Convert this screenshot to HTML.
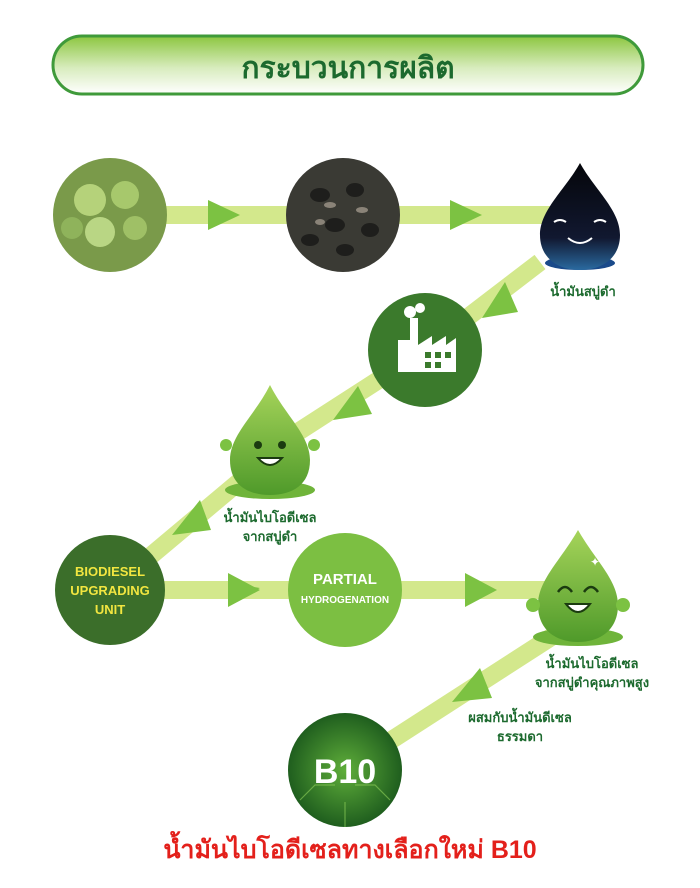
<!DOCTYPE html>
<html><head><meta charset="utf-8"><style>
body{margin:0;background:#fff;}
svg{display:block;font-family:"Liberation Sans","Noto Sans CJK SC",sans-serif;}
</style></head><body>
<svg width="700" height="888" viewBox="0 0 700 888">
<defs>
<linearGradient id="hdr" x1="0" y1="0" x2="0" y2="1">
<stop offset="0" stop-color="#8cc63f"/><stop offset="0.55" stop-color="#d8ecbe"/><stop offset="1" stop-color="#ffffff"/>
</linearGradient>
<linearGradient id="drop" x1="0" y1="0" x2="0" y2="1">
<stop offset="0" stop-color="#a6d45a"/><stop offset="1" stop-color="#4f9a2a"/>
</linearGradient>
<linearGradient id="bdrop" x1="0" y1="0" x2="0" y2="1">
<stop offset="0" stop-color="#05060a"/><stop offset="0.7" stop-color="#111830"/><stop offset="1" stop-color="#2a6aa0"/>
</linearGradient>
<radialGradient id="b10" cx="0.5" cy="0.5" r="0.5">
<stop offset="0" stop-color="#5fae3a"/><stop offset="1" stop-color="#1f5e1e"/>
</radialGradient>
</defs>
<!-- header -->
<rect x="53" y="36" width="590" height="58" rx="29" fill="url(#hdr)" stroke="#3f9a3a" stroke-width="3"/>
<text x="348" y="78" text-anchor="middle" font-size="30" font-weight="bold" fill="#1c6a2e">กระบวนการผลิต</text>
<!-- bands -->
<g stroke="#d3e88c" stroke-width="18" fill="none" stroke-linecap="butt">
<line x1="110" y1="215" x2="580" y2="215"/>
<line x1="540" y1="262" x2="425" y2="350"/>
<line x1="425" y1="350" x2="270" y2="450"/>
<line x1="265" y1="460" x2="110" y2="590"/>
<line x1="110" y1="590" x2="575" y2="590"/>
<line x1="570" y1="625" x2="345" y2="770"/>
</g>
<g fill="#7cc242">
<polygon points="208,200 240,215 208,230"/>
<polygon points="450,200 482,215 450,230"/>
<polygon points="230,585 260,590 230,606" transform="translate(0,-2)"/>
<polygon points="228,573 260,590 228,607"/>
<polygon points="465,573 497,590 465,607"/>
<polygon points="505,282 482,318 518,312"/>
<polygon points="358,386 333,420 372,414"/>
<polygon points="200,500 172,535 211,530"/>
<polygon points="480,668 452,702 492,698"/>
</g>
<!-- circle 1 fruit -->
<circle cx="110" cy="215" r="57" fill="#7a9a4a"/>
<circle cx="90" cy="200" r="16" fill="#b5d27a"/><circle cx="125" cy="195" r="14" fill="#a7c86c"/>
<circle cx="100" cy="232" r="15" fill="#b9d684"/><circle cx="135" cy="228" r="12" fill="#9fc066"/>
<circle cx="72" cy="228" r="11" fill="#8fb35b"/>
<!-- circle 2 seeds -->
<circle cx="343" cy="215" r="57" fill="#3a3a34"/>
<g fill="#1e1e1c"><ellipse cx="320" cy="195" rx="10" ry="7"/><ellipse cx="355" cy="190" rx="9" ry="7"/><ellipse cx="335" cy="225" rx="10" ry="7"/><ellipse cx="370" cy="230" rx="9" ry="7"/><ellipse cx="310" cy="240" rx="9" ry="6"/><ellipse cx="345" cy="250" rx="9" ry="6"/></g>
<g fill="#8a8378"><ellipse cx="330" cy="205" rx="6" ry="3"/><ellipse cx="362" cy="210" rx="6" ry="3"/><ellipse cx="320" cy="222" rx="5" ry="3"/></g>
<!-- black drop -->
<ellipse cx="580" cy="263" rx="35" ry="7" fill="#1a4a8a"/>
<path d="M580,163 C595,190 620,210 620,235 C620,258 602,270 580,270 C558,270 540,258 540,235 C540,210 565,190 580,163Z" fill="url(#bdrop)"/>
<path d="M566,222 q-6,-4 -12,0 M606,222 q-6,-4 -12,0" stroke="#fff" stroke-width="2" fill="none"/>
<path d="M568,238 q12,10 24,0" stroke="#fff" stroke-width="2" fill="none"/>
<text x="583" y="296" text-anchor="middle" font-size="13" font-weight="bold" fill="#1c6a2e">น้ำมันสบู่ดำ</text>
<!-- factory -->
<circle cx="425" cy="350" r="57" fill="#3b7a2c"/>
<path d="M398,372 L398,340 L410,340 L410,318 L418,318 L418,345 L432,336 L432,345 L446,336 L446,345 L456,338 L456,372Z" fill="#fff"/>
<circle cx="410" cy="312" r="6" fill="#fff"/><circle cx="420" cy="308" r="5" fill="#fff"/>
<g fill="#3b7a2c"><rect x="425" y="352" width="6" height="6"/><rect x="435" y="352" width="6" height="6"/><rect x="445" y="352" width="6" height="6"/><rect x="425" y="362" width="6" height="6"/><rect x="435" y="362" width="6" height="6"/></g>
<!-- green drop 1 -->
<ellipse cx="270" cy="490" rx="45" ry="9" fill="#6fb43a"/>
<path d="M270,385 C285,415 310,435 310,460 C310,485 292,495 270,495 C248,495 230,485 230,460 C230,435 255,415 270,385Z" fill="url(#drop)"/>
<circle cx="258" cy="445" r="4" fill="#1b3b10"/><circle cx="282" cy="445" r="4" fill="#1b3b10"/>
<path d="M258,458 q12,14 24,0Z" fill="#fff" stroke="#1b3b10" stroke-width="2"/>
<circle cx="226" cy="445" r="6" fill="#7cc242"/><circle cx="314" cy="445" r="6" fill="#7cc242"/>
<text x="270" y="522" text-anchor="middle" font-size="13" font-weight="bold" fill="#1c6a2e">น้ำมันไบโอดีเซล</text>
<text x="270" y="541" text-anchor="middle" font-size="13" font-weight="bold" fill="#1c6a2e">จากสบู่ดำ</text>
<!-- biodiesel -->
<circle cx="110" cy="590" r="55" fill="#3b6e2a"/>
<g font-size="13" font-weight="bold" fill="#f2e640" text-anchor="middle">
<text x="110" y="576">BIODIESEL</text><text x="110" y="595">UPGRADING</text><text x="110" y="614">UNIT</text></g>
<!-- partial -->
<circle cx="345" cy="590" r="57" fill="#7cbf42"/>
<text x="345" y="584" text-anchor="middle" font-size="15" font-weight="bold" fill="#fff">PARTIAL</text>
<text x="345" y="603" text-anchor="middle" font-size="10" font-weight="bold" fill="#fff">HYDROGENATION</text>
<!-- smiley drop -->
<ellipse cx="578" cy="637" rx="45" ry="9" fill="#6fb43a"/>
<path d="M578,530 C595,560 618,580 618,605 C618,630 600,642 578,642 C556,642 538,630 538,605 C538,580 561,560 578,530Z" fill="url(#drop)"/>
<path d="M558,592 q7,-10 14,0 M584,592 q7,-10 14,0" stroke="#1b3b10" stroke-width="2.5" fill="none"/>
<path d="M566,604 q12,16 24,0Z" fill="#fff" stroke="#1b3b10" stroke-width="2"/>
<text x="590" y="566" font-size="12" fill="#fff">✦</text>
<circle cx="533" cy="605" r="7" fill="#7cc242"/><circle cx="623" cy="605" r="7" fill="#7cc242"/>
<text x="592" y="668" text-anchor="middle" font-size="13" font-weight="bold" fill="#1c6a2e">น้ำมันไบโอดีเซล</text>
<text x="592" y="687" text-anchor="middle" font-size="13" font-weight="bold" fill="#1c6a2e">จากสบู่ดำคุณภาพสูง</text>
<text x="520" y="722" text-anchor="middle" font-size="13" font-weight="bold" fill="#1c6a2e">ผสมกับน้ำมันดีเซล</text>
<text x="520" y="741" text-anchor="middle" font-size="13" font-weight="bold" fill="#1c6a2e">ธรรมดา</text>
<!-- B10 -->
<circle cx="345" cy="770" r="57" fill="url(#b10)"/>
<g stroke="#8fd05a" stroke-width="1.2" fill="none" opacity="0.6"><path d="M300,800 l15,-15 h20 M390,800 l-15,-15 h-20 M345,827 v-25"/></g>
<text x="345" y="783" text-anchor="middle" font-size="34" font-weight="bold" fill="#fff">B10</text>
<text x="350" y="858" text-anchor="middle" font-size="25" font-weight="bold" fill="#e3201b">น้ำมันไบโอดีเซลทางเลือกใหม่ B10</text>
</svg>
</body></html>
